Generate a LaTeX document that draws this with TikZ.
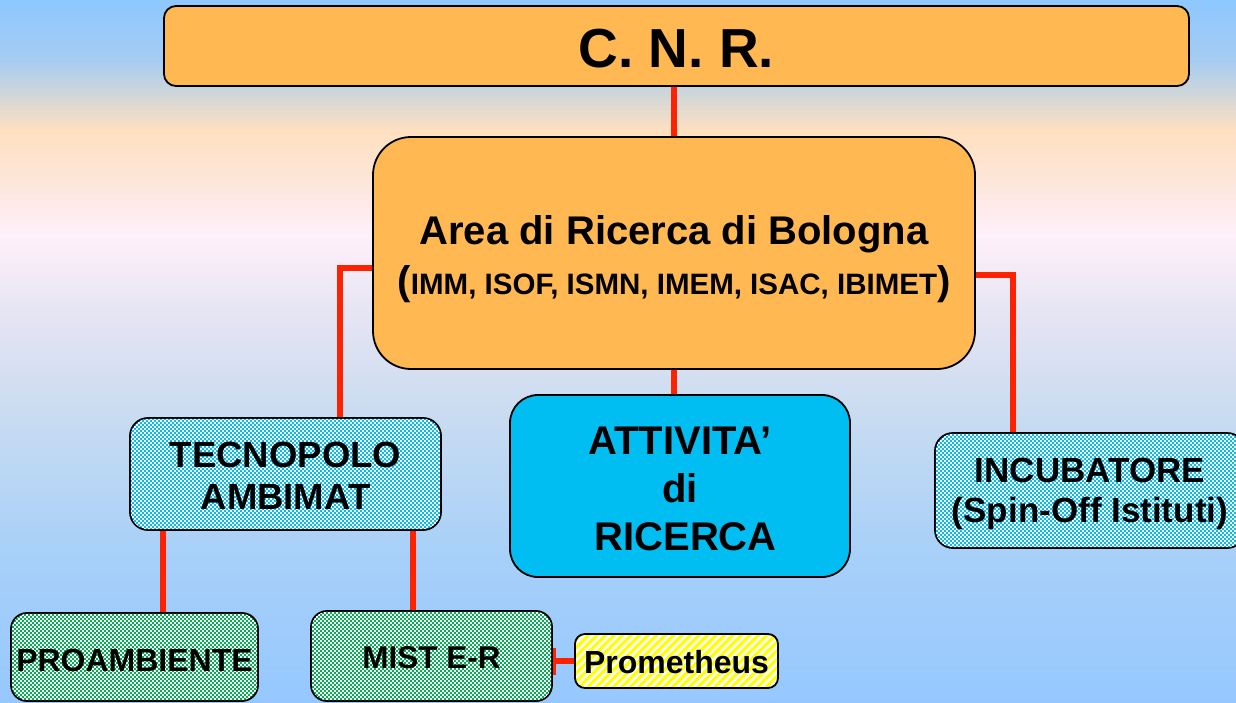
\documentclass[tikz,border=0pt]{standalone}
\usepackage{fontspec}
\setmainfont{Liberation Sans}
\usetikzlibrary{patterns.meta,calc}
\definecolor{bgA}{HTML}{8EC8FF}
\definecolor{bgB}{HTML}{A6CCF2}
\definecolor{bgC}{HTML}{D8D8D4}
\definecolor{bgD}{HTML}{FFE0C0}
\definecolor{bgE}{HTML}{FDE6DA}
\definecolor{bgF}{HTML}{FFF0FA}
\definecolor{bgG}{HTML}{EAE6F4}
\definecolor{bgH}{HTML}{CCDDF0}
\definecolor{bgI}{HTML}{A8D0F8}
\definecolor{bgJ}{HTML}{96C8FF}
\definecolor{boxOrange}{HTML}{FFB852}
\definecolor{boxCyan}{HTML}{00BEF2}
\definecolor{boxGreen}{HTML}{00B050}
\definecolor{boxYellow}{HTML}{FFFF00}
\definecolor{lineRed}{HTML}{FF2200}
\pgfdeclarelayer{back}
\pgfdeclarelayer{bg}
\pgfsetlayers{back,bg,main}
\tikzset{
  conn/.style={draw=lineRed, line width=6pt},
  box/.style={draw=black, line width=1.8pt, inner sep=0pt},
  txt/.style={align=center, inner sep=0pt, font=\bfseries},
  orangebox/.style={box, fill=boxOrange},
  stripebox/.style={box, preaction={fill=boxYellow}, pattern={Lines[angle=45,distance=6pt,line width=2.6pt]}, pattern color=white},
  checkdash/.style={white, line width=1.5pt, dash pattern=on 1.5pt off 2.5pt},
}
% white checker dots inside a rounded box: x0,y0,x1,y1,radius
\newcommand{\checkpat}[5]{%
  \begin{scope}
    \clip[rounded corners=#5-0.9pt] (#1+0.9,#2+0.9) rectangle (#3-0.9,#4-0.9);
    \pgfmathtruncatemacro{\ystart}{4*floor(#2/4)}
    \pgfmathtruncatemacro{\ysecond}{\ystart+4}
    \pgfmathtruncatemacro{\xstart}{4*floor(#1/4)}
    \foreach \yy in {\ystart,\ysecond,...,#4} {
      \draw[checkdash] (\xstart,\yy+1) -- (#3,\yy+1);
      \draw[checkdash, dash phase=2pt] (\xstart,\yy+3) -- (#3,\yy+3);
    }
  \end{scope}}
\begin{document}
\begin{tikzpicture}[x=1pt,y=-1pt]
\useasboundingbox (0,0) rectangle (1236,702);
\begin{pgfonlayer}{back}
\shade[top color=bgA, bottom color=bgB] (0,0) rectangle (1236,61);
\shade[top color=bgB, bottom color=bgC] (0,60) rectangle (1236,101);
\shade[top color=bgC, bottom color=bgD] (0,100) rectangle (1236,131);
\shade[top color=bgD, bottom color=bgE] (0,130) rectangle (1236,181);
\shade[top color=bgE, bottom color=bgF] (0,180) rectangle (1236,236);
\shade[top color=bgF, bottom color=bgG] (0,235) rectangle (1236,301);
\shade[top color=bgG, bottom color=bgH] (0,300) rectangle (1236,401);
\shade[top color=bgH, bottom color=bgI] (0,400) rectangle (1236,551);
\shade[top color=bgI, bottom color=bgJ] (0,550) rectangle (1236,702);
\end{pgfonlayer}

% boxes
\node[orangebox, minimum width=1025pt, minimum height=80pt, rounded corners=12pt] (cnr) at (676.5,46) {};
\node[orangebox, minimum width=602pt, minimum height=232pt, rounded corners=38pt] (area) at (674,253) {};
\node[box, fill=boxCyan, minimum width=311pt, minimum height=112pt, rounded corners=18pt] (tec) at (285.5,474) {};
\node[box, fill=boxCyan, minimum width=340pt, minimum height=182pt, rounded corners=28pt] (att) at (680,486) {};
\node[box, fill=boxCyan, minimum width=310pt, minimum height=115pt, rounded corners=18pt] (inc) at (1090,490.5) {};
\node[box, fill=boxGreen, minimum width=247pt, minimum height=88pt, rounded corners=16pt] (proa) at (134.5,657) {};
\node[box, fill=boxGreen, minimum width=241pt, minimum height=90pt, rounded corners=16pt] (mist) at (431.5,656) {};
\node[stripebox, minimum width=203pt, minimum height=54pt, rounded corners=10pt] (prom) at (676.5,661) {};

% checker texture
\checkpat{130}{418}{441}{530}{18pt}
\checkpat{935}{433}{1245}{548}{18pt}
\checkpat{11}{613}{258}{701}{16pt}
\checkpat{311}{611}{552}{701}{16pt}

% texts
\node[txt, font=\bfseries\fontsize{55}{60}\selectfont] (cnrtext) at ([yshift=-3pt]cnr.center) {C. N. R.};
\node[txt, font=\bfseries\fontsize{40}{50}\selectfont] (areatext) at ([yshift=-6pt]area.center)
  {Area di Ricerca di Bologna\\(\fontsize{29.5}{50}\selectfont IMM, ISOF, ISMN, IMEM, ISAC, IBIMET\fontsize{40}{50}\selectfont)};
\node[txt, font=\bfseries\fontsize{36.5}{42}\selectfont] (tectext) at ([yshift=-2pt]tec.center) {TECNOPOLO\\AMBIMAT};
\node[txt, font=\bfseries\fontsize{40}{48}\selectfont] (atttext) at ([yshift=-3pt]att.center) {ATTIVITA’\\di\\\hspace*{0.278em}RICERCA};
\node[txt, font=\bfseries\fontsize{35}{40}\selectfont] (inctext) at ([yshift=-3.5pt]inc.center) {INCUBATORE\\(Spin-Off Istituti)};
\node[txt, font=\bfseries\fontsize{32}{38}\selectfont] (proatext) at ([yshift=-3pt]proa.center) {PROAMBIENTE};
\node[txt, font=\bfseries\fontsize{31.5}{38}\selectfont] (misttext) at ([yshift=-2pt]mist.center) {MIST E-R};
\node[txt, font=\bfseries\fontsize{32}{38}\selectfont] (promtext) at ([yshift=-1pt]prom.center) {Prometheus};

% connectors
\begin{pgfonlayer}{bg}
\draw[conn] (area.north) -- (area.north |- cnr.south);
\draw[conn] ([yshift=-15pt]area.west) -| ([xshift=54.5pt]tec.north);
\draw[conn] ([yshift=-22pt]area.east) -| ([xshift=-77pt]inc.north);
\draw[conn] (area.south) -- (area.south |- att.north);
\draw[conn] ([xshift=-122.5pt]tec.south) -- ([xshift=-122.5pt]tec.south |- proa.north);
\draw[conn] ([xshift=127.5pt]tec.south) -- ([xshift=127.5pt]tec.south |- mist.north);
\draw[conn] (prom.west) -- (prom.west -| mist.east) -- ++(0,-13) -- ++(0,27);
\end{pgfonlayer}
\end{tikzpicture}
\end{document}
